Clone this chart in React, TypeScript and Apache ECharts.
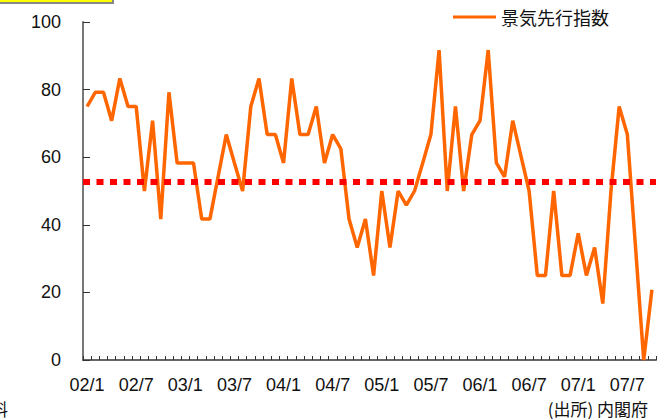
import React, { useEffect, useRef } from "react";
import * as echarts from "echarts";

const categories: string[] = [
  "02/1","02/2","02/3","02/4","02/5","02/6","02/7","02/8","02/9","02/10","02/11","02/12",
  "03/1","03/2","03/3","03/4","03/5","03/6","03/7","03/8","03/9","03/10","03/11","03/12",
  "04/1","04/2","04/3","04/4","04/5","04/6","04/7","04/8","04/9","04/10","04/11","04/12",
  "05/1","05/2","05/3","05/4","05/5","05/6","05/7","05/8","05/9","05/10","05/11","05/12",
  "06/1","06/2","06/3","06/4","06/5","06/6","06/7","06/8","06/9","06/10","06/11","06/12",
  "07/1","07/2","07/3","07/4","07/5","07/6","07/7","07/8","07/9","07/10",
];

const leadingIndex: number[] = [
  75, 79.2, 79.2, 70.8, 83.3, 75, 75, 50, 70.8, 41.7,
  79.2, 58.3, 58.3, 58.3, 41.7, 41.7, 54.2, 66.7, 58.3, 50,
  75, 83.3, 66.7, 66.7, 58.3, 83.3, 66.7, 66.7, 75, 58.3,
  66.7, 62.5, 41.7, 33.3, 41.7, 25, 50, 33.3, 50, 45.8,
  50, 58.3, 66.7, 91.7, 50, 75, 50, 66.7, 70.8, 91.7,
  58.3, 54.2, 70.8, 60.4, 50, 25, 25, 50, 25, 25,
  37.5, 25, 33.3, 16.7, 50, 75, 66.7, 33.3, 0, 20.8,
];

const referenceLevel = 52.6;
const yTicks = { min: 0, max: 100, interval: 20 };
const seriesName = "景気先行指数";
const sourceText = "(出所) 内閣府";

export default function App() {
  const ref = useRef<HTMLDivElement>(null);
  useEffect(() => {
    if (!ref.current) return;
    const chart = echarts.init(ref.current, undefined, { renderer: "svg" });
    chart.setOption({
      animation: false,
      backgroundColor: "#ffffff",
      textStyle: { fontFamily: "Liberation Sans, Arial, sans-serif" },
      grid: { left: 83, right: 7, top: 22, bottom: 59, containLabel: false },
      legend: {
        data: [seriesName],
        left: 448,
        top: 3,
        icon: "rect",
        itemWidth: 43,
        itemHeight: 3,
        textStyle: {
          fontSize: 18,
          color: "#111",
          fontFamily: "Noto Sans CJK JP, sans-serif",
        },
      },
      xAxis: {
        type: "category",
        data: categories,
        boundaryGap: true,
        axisLine: { show: true, lineStyle: { color: "#666", width: 2 } },
        axisTick: {
          show: true,
          inside: true,
          length: 4,
          interval: 0,
          alignWithLabel: false,
          lineStyle: { color: "#333", width: 1 },
        },
        axisLabel: {
          interval: 5,
          fontSize: 18,
          lineHeight: 18,
          color: "#111",
          margin: 16,
        },
        splitLine: { show: false },
      },
      yAxis: {
        type: "value",
        min: yTicks.min,
        max: yTicks.max,
        interval: yTicks.interval,
        axisLine: { show: true, lineStyle: { color: "#777", width: 2 } },
        axisTick: {
          show: true,
          inside: true,
          length: 7,
          lineStyle: { color: "#333", width: 1 },
        },
        axisLabel: { fontSize: 18, color: "#111", margin: 22 },
        splitLine: { show: false },
      },
      series: [
        {
          name: seriesName,
          type: "line",
          data: leadingIndex,
          showSymbol: false,
          symbol: "none",
          lineStyle: { color: "#FF6600", width: 3.5 },
          itemStyle: { color: "#FF6600" },
          z: 2,
          markLine: {
            silent: true,
            symbol: ["none", "none"],
            label: { show: false },
            z: 5,
            lineStyle: {
              color: "#FF0000",
              width: 6,
              type: [7, 6.5],
            },
            data: [{ yAxis: referenceLevel }],
          },
        },
      ],
      graphic: [
        {
          type: "rect",
          shape: { x: -5, y: -20, width: 118, height: 23 },
          style: { fill: "#FFFF00", stroke: "#888", lineWidth: 2 },
        },
        {
          type: "text",
          right: 15,
          top: 399,
          style: {
            text: sourceText,
            fontSize: 17,
            lineHeight: 18,
            fill: "#111",
            fontFamily: "Noto Sans CJK JP, sans-serif",
          },
        },
        {
          type: "text",
          left: -9,
          top: 399,
          style: {
            text: "料",
            fontSize: 17,
            lineHeight: 18,
            fill: "#111",
            fontFamily: "Noto Sans CJK JP, sans-serif",
          },
        },
      ],
    });
    return () => chart.dispose();
  }, []);
  return (
    <div
      ref={ref}
      style={{ position: "fixed", left: 0, top: 0, width: 663, height: 419 }}
    />
  );
}
